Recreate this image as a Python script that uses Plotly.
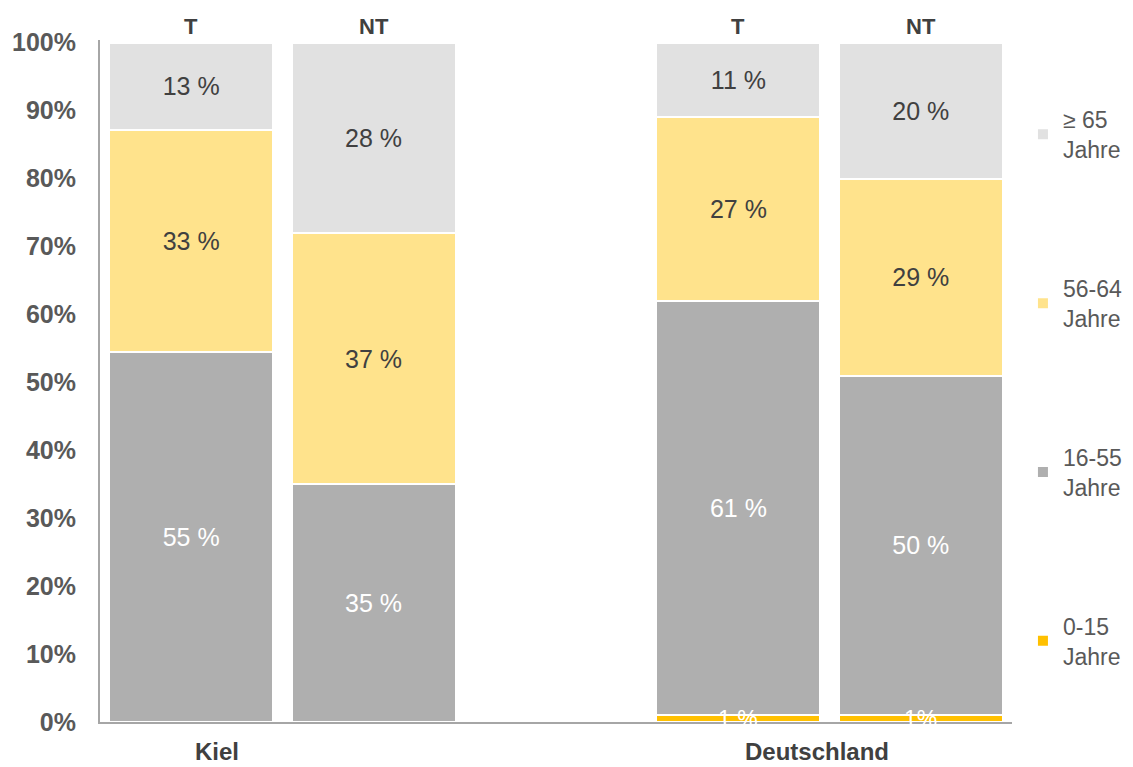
import plotly.graph_objects as go

# ---- data ----
groups = ["Kiel", "Deutschland"]
subgroups = ["T", "NT"]
bar_groups = ["Kiel", "Kiel", "Deutschland", "Deutschland"]
bar_subs = ["T", "NT", "T", "NT"]

age_0_15 = [0, 0, 1, 1]
age_16_55 = [55, 35, 61, 50]
age_56_64 = [33, 37, 27, 29]
age_65 = [13, 28, 11, 20]
labels_0_15 = ["", "", "1 %", "1%"]

series_names = ["0-15<br>Jahre", "16-55<br>Jahre", "56-64<br>Jahre", "≥ 65<br>Jahre"]
series_values = [age_0_15, age_16_55, age_56_64, age_65]
series_colors = ["#FFC000", "#AFAFAF", "#FFE38C", "#E1E1E1"]
series_textcolors = ["white", "white", "#404040", "#404040"]

y_ticks = list(range(0, 101, 10))
y_ticklabels = [f"{t}%" for t in y_ticks]

FONT = "Arial, Liberation Sans, sans-serif"

# x position: group index * 3 + subgroup index (gap of one slot between groups)
xpos = [groups.index(g) * 3 + subgroups.index(s) for g, s in zip(bar_groups, bar_subs)]

fig = go.Figure()
n = len(series_names)
for i, (name, vals, col, tcol) in enumerate(zip(series_names, series_values, series_colors, series_textcolors)):
    if i == 0:
        text = None
        tp = "none"
    else:
        text = [f"{v} %" for v in vals]
        tp = "inside"
    fig.add_trace(go.Bar(
        x=xpos, y=vals, name=name, width=0.9,
        marker=dict(color=col, line=dict(color="white", width=2)),
        text=text, textposition=tp, insidetextanchor="middle", textangle=0,
        textfont=dict(family=FONT, size=25, color=tcol),
        legendgroup=str(i), legendrank=n - i,
        hoverinfo="skip",
    ))

annotations = []
# small 0-15 labels
for x, v, lab in zip(xpos, age_0_15, labels_0_15):
    if lab:
        annotations.append(dict(x=x, y=v / 2, xref="x", yref="y", text=lab, showarrow=False,
                                font=dict(family=FONT, size=23, color="white")))
# T / NT labels above bars
for x, s in zip(xpos, bar_subs):
    annotations.append(dict(x=x, y=1.0, xref="x", yref="paper", yanchor="middle", yshift=14,
                            text=f"<b>{s}</b>", showarrow=False,
                            font=dict(family=FONT, size=22, color="#404040")))
# group labels below
group_label_x = {"Kiel": 0.14, "Deutschland": 3.43}
for g in groups:
    annotations.append(dict(x=group_label_x[g], y=0, xref="x", yref="paper", yanchor="middle", yshift=-29,
                            text=f"<b>{g}</b>", showarrow=False,
                            font=dict(family=FONT, size=24, color="#404040")))

fig.update_layout(
    width=1125, height=759,
    barmode="stack", barnorm="percent",
    plot_bgcolor="white", paper_bgcolor="white",
    margin=dict(l=92, r=121, t=32, b=45, autoexpand=False),
    showlegend=True,
    legend=dict(x=1.012, y=0.915, xanchor="left", yanchor="top",
                traceorder="grouped", tracegroupgap=106,
                font=dict(family=FONT, size=23, color="#595959"),
                itemwidth=30),
    annotations=annotations,
    xaxis=dict(range=[-0.5, 4.5], showticklabels=False, ticks="", showgrid=False,
               zeroline=False, showline=True, linecolor="#A6A6A6", linewidth=2),
    yaxis=dict(range=[0, 100.4], tickvals=y_ticks, ticktext=[f"<b>{t}</b>" for t in y_ticklabels],
               tickfont=dict(family=FONT, size=25, color="#595959"),
               showgrid=False, zeroline=False, showline=True, linecolor="#A6A6A6", linewidth=2,
               ticks="", ticklabelstandoff=17),
)

fig.write_html("out.html")
